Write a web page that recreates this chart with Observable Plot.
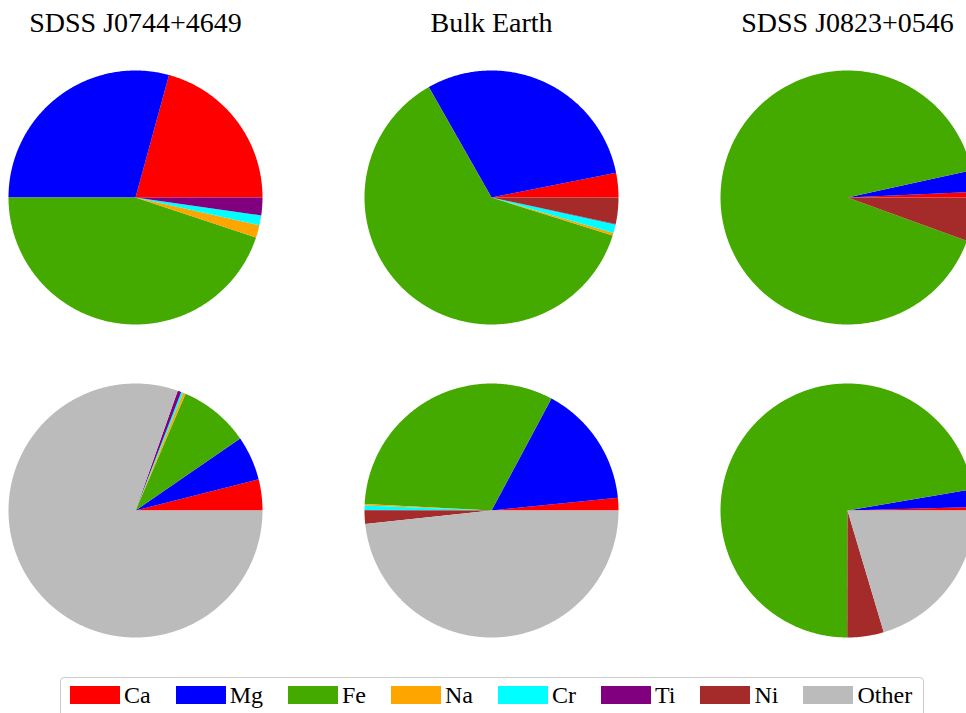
<!DOCTYPE html>
<html>
<head>
<meta charset="utf-8">
<script src="https://cdn.jsdelivr.net/npm/d3@7"></script>
<script src="https://cdn.jsdelivr.net/npm/@observablehq/plot@0.6"></script>
<style>
  html, body { margin: 0; padding: 0; background: #fff; overflow: hidden; }
  #chart svg { display: block; }
  #chart svg, #chart svg text { font-family: "Liberation Serif", "Times New Roman", serif; }
  .legend {
    display: inline-flex;
    align-items: center;
    margin: 10px 0 0 60px;
    padding: 5px 11px 9px 9px;
    border: 1.5px solid #cccccc;
    border-radius: 4px;
    font-family: "Liberation Serif", "Times New Roman", serif;
    font-size: 24px;
    line-height: 24px;
    color: #000;
    white-space: nowrap;
  }
  .legend-item { display: flex; align-items: center; margin-right: 25px; }
  .legend-item:last-child { margin-right: 0; }
  .legend-patch { display: inline-block; width: 50px; height: 18px; margin-right: 4px; }
</style>
</head>
<body>
<div id="chart"></div>
<script>
// Element groups, in drawing order (counter-clockwise from 3 o'clock)
const elements = ["Ca", "Mg", "Fe", "Na", "Cr", "Ti", "Ni", "Other"];
const elementColors = ["#ff0000", "#0000ff", "#44aa00", "#ffa500", "#00ffff", "#800080", "#a52a2a", "#bbbbbb"];

const stars = ["SDSS J0744+4649", "Bulk Earth", "SDSS J0823+0546"];
const rows = ["metals", "all"];

// Top row: share of each metal among the listed metals (%), order Ca..Ni
const j0744Metals = [20.75, 29.25, 44.89, 1.61, 1.25, 2.25, 0];
const earthMetals = [3.11, 30.11, 61.92, 0.33, 1.11, 0.08, 3.33];
const j0823Metals = [0.72, 2.72, 91.03, 0, 0, 0, 5.53];

// Bottom row: share of total mass (%), order Ca..Ni, Other
const j0744All = [3.95, 5.65, 8.95, 0.33, 0.26, 0.46, 0, 80.4];
const earthAll = [1.61, 15.57, 32.01, 0.17, 0.57, 0.04, 1.72, 48.31];
const j0823All = [0.44, 2.25, 72.28, 0, 0, 0, 4.64, 20.39];

const pies = [
  {star: stars[0], row: "metals", values: j0744Metals},
  {star: stars[1], row: "metals", values: earthMetals},
  {star: stars[2], row: "metals", values: j0823Metals},
  {star: stars[0], row: "all", values: j0744All},
  {star: stars[1], row: "all", values: earthAll},
  {star: stars[2], row: "all", values: j0823All}
];

// Turn every pie into closed wedge outlines on a unit circle
const wedgePoints = [];
pies.forEach((pie, p) => {
  const total = d3.sum(pie.values);
  let a0 = 0;
  pie.values.forEach((v, i) => {
    if (!(v > 0)) return;
    const a1 = a0 + (v / total) * 2 * Math.PI;
    const n = Math.max(2, Math.ceil((a1 - a0) / (Math.PI / 360)));
    const base = {star: pie.star, row: pie.row, element: elements[i], slice: `${p}-${i}`};
    wedgePoints.push({...base, x: 0, y: 0});
    for (let k = 0; k <= n; ++k) {
      const t = a0 + (a1 - a0) * k / n;
      wedgePoints.push({...base, x: Math.cos(t), y: Math.sin(t)});
    }
    wedgePoints.push({...base, x: 0, y: 0});
    a0 = a1;
  });
});

const serif = "'Liberation Serif', 'Times New Roman', serif";

const chart = Plot.plot({
  width: 974,
  height: 667,
  marginLeft: 8,
  marginRight: 0,
  marginTop: 70,
  marginBottom: 30,
  style: {
    fontFamily: serif,
    color: "#000",
    background: "#fff",
    maxWidth: "none",
    overflow: "visible"
  },
  x: {domain: [-1, 1], axis: null},
  y: {domain: [-1, 1], axis: null},
  fx: {domain: stars, paddingInner: 102 / 356, paddingOuter: 0, round: false, label: null},
  fy: {domain: rows, paddingInner: 59 / 313, paddingOuter: 0, round: false, axis: null, label: null},
  color: {type: "ordinal", domain: elements, range: elementColors},
  marks: [
    Plot.line(wedgePoints, {
      x: "x", y: "y", z: "slice", fill: "element", stroke: "none",
      fx: "star", fy: "row", curve: "linear"
    }),
    Plot.axisFx({anchor: "top", tickSize: 0, tickPadding: 39, fontSize: 28, fontFamily: serif, label: null})
  ]
});

document.getElementById("chart").append(chart);

// Legend built from the chart's color scale
const colorScale = chart.scale("color");
const legend = d3.select("body").append("div").attr("class", "legend");
colorScale.domain.forEach((name, i) => {
  const item = legend.append("div").attr("class", "legend-item");
  item.append("span").attr("class", "legend-patch").style("background", colorScale.range[i]);
  item.append("span").text(name);
});
</script>
</body>
</html>
